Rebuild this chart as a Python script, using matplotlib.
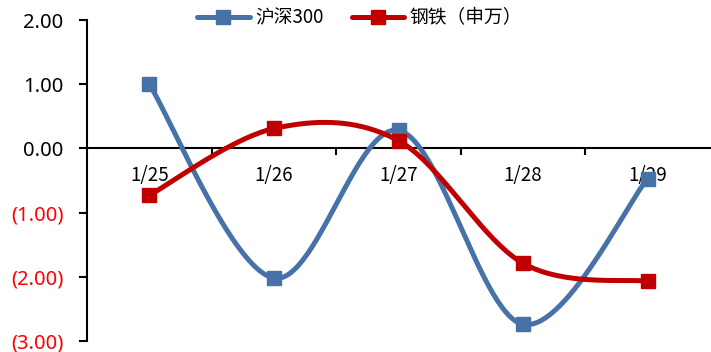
import numpy as np
import matplotlib
matplotlib.use("Agg")
import matplotlib.pyplot as plt
from matplotlib.ticker import FuncFormatter

plt.rcParams['font.family'] = ['Noto Sans CJK SC', 'DejaVu Sans']

dates = ["1/25", "1/26", "1/27", "1/28", "1/29"]
hs300 = [1.00, -2.02, 0.28, -2.74, -0.47]
steel = [-0.73, 0.31, 0.12, -1.79, -2.07]
series_names = ["沪深300", "钢铁（申万）"]
colors = ["#4672A8", "#C00000"]


def smooth(xs, ys, n=60):
    """Catmull-Rom style cubic Bezier smoothing through each point."""
    pts = np.column_stack([xs, ys]).astype(float)
    ext = np.vstack([pts[0], pts, pts[-1]])
    out = []
    for i in range(1, len(ext) - 2):
        p0, p1, p2, p3 = ext[i - 1], ext[i], ext[i + 1], ext[i + 2]
        c1 = p1 + (p2 - p0) / 6.0
        c2 = p2 - (p3 - p1) / 6.0
        t = np.linspace(0, 1, n)[:, None]
        seg = ((1 - t) ** 3) * p1 + 3 * ((1 - t) ** 2) * t * c1 + 3 * (1 - t) * t ** 2 * c2 + t ** 3 * p2
        out.append(seg if i == 1 else seg[1:])
    s = np.vstack(out)
    return s[:, 0], s[:, 1]


fig = plt.figure(figsize=(7.11, 3.52), dpi=100)
ax = fig.add_axes([87 / 711, 1 - 341 / 352, (710 - 87) / 711, (341 - 20) / 352])

x = np.arange(len(dates))
for vals, name, c in zip([hs300, steel], series_names, colors):
    sx, sy = smooth(x, vals)
    ax.plot(sx, sy, color=c, lw=3.6, solid_capstyle='round', zorder=3)
    ax.plot(x, vals, ls='none', marker='s', ms=10, color=c, zorder=4)

ax.set_xlim(-0.5, len(dates) - 0.5)
ax.set_ylim(-3, 2)
ax.set_yticks(np.arange(-3, 2.01, 1))


def fmt(v, pos):
    return f"({abs(v):.2f})" if v < -1e-9 else f"{v:.2f}"


ax.yaxis.set_major_formatter(FuncFormatter(fmt))
ax.tick_params(axis='y', direction='out', length=6, width=1.5, labelsize=14.5, pad=11)
for lab, v in zip(ax.get_yticklabels(), ax.get_yticks()):
    lab.set_color('#FF0000' if v < 0 else 'black')
    lab.set_fontfamily(['Noto Sans', 'DejaVu Sans'])

ax.set_xticks(np.arange(0.5, len(dates) - 0.5, 1))
ax.set_xticklabels([])
ax.set_xticks(x, minor=True)
ax.set_xticklabels(dates, minor=True)
ax.tick_params(axis='x', which='major', direction='out', length=5, width=1.5)
ax.tick_params(axis='x', which='minor', length=0, labelsize=13.5, pad=12)
for lab in ax.get_xticklabels(minor=True):
    lab.set_fontfamily(['Noto Sans', 'DejaVu Sans'])

ax.spines['bottom'].set_position(('data', 0))
ax.spines['bottom'].set_linewidth(1.5)
ax.spines['left'].set_linewidth(1.5)
ax.spines['top'].set_visible(False)
ax.spines['right'].set_visible(False)

handles = [plt.Line2D([], [], color=c, lw=3.6, marker='s', ms=10, solid_capstyle='round') for c in colors]
fig.legend(handles, series_names, loc='center', bbox_to_anchor=(0.506, 0.95), ncol=2,
           frameon=False, fontsize=13.5, handlelength=2.8, handletextpad=0.3, columnspacing=1.5)

fig.savefig("out.png", dpi=100)
